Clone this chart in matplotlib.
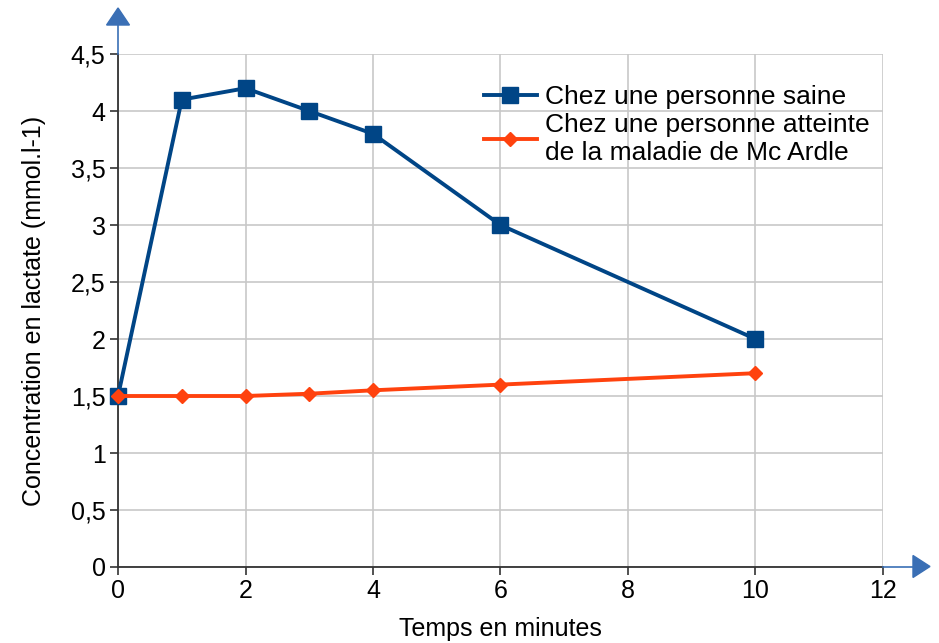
import matplotlib.pyplot as plt
from matplotlib.patches import Polygon

temps = [0, 1, 2, 3, 4, 6, 10]
saine = [1.5, 4.1, 4.2, 4.0, 3.8, 3.0, 2.0]
mcardle = [1.5, 1.5, 1.5, 1.52, 1.55, 1.6, 1.7]
y_ticks = [0, 0.5, 1, 1.5, 2, 2.5, 3, 3.5, 4, 4.5]
x_ticks = [0, 2, 4, 6, 8, 10, 12]

plt.rcParams['font.family'] = ['Liberation Sans', 'DejaVu Sans']

fig = plt.figure(figsize=(9.39, 6.43), dpi=100)
ax = fig.add_axes([0.1257, 0.1182, 0.8146, 0.7978])

ax.plot(temps, saine, color='#004586', lw=2.8, marker='s', ms=12,
        label='Chez une personne saine', zorder=3, clip_on=False)
ax.plot(temps, mcardle, color='#ff420e', lw=2.8, marker='D', ms=7,
        label='Chez une personne atteinte\nde la maladie de Mc Ardle', zorder=3,
        clip_on=False)

ax.set_xlim(0, 12)
ax.set_ylim(0, 4.5)
ax.set_xticks(x_ticks)
ax.set_yticks(y_ticks)
ax.set_yticklabels([('%g' % v).replace('.', ',') for v in y_ticks])
ax.tick_params(labelsize=18, length=6, color='#333333', width=1.2, pad=3)
ax.grid(True, color='#c8c8c8', lw=1.2)
ax.set_axisbelow(True)
for s in ['top', 'right']:
    ax.spines[s].set_visible(False)
for s in ['left', 'bottom']:
    ax.spines[s].set_color('#333333')
    ax.spines[s].set_linewidth(1.3)

ax.set_xlabel('Temps en minutes', fontsize=18, labelpad=10)
ax.set_ylabel('Concentration en lactate (mmol.l-1)', fontsize=18, labelpad=18)

ax.legend(loc='upper right', bbox_to_anchor=(0.982, 0.94), frameon=False,
          fontsize=19, handlelength=2.0, handletextpad=0.3, labelspacing=0.15,
          borderaxespad=0, borderpad=0)

# fleches des axes
arrow_col = '#3a6fb5'
fig.add_artist(plt.Line2D([0.1257, 0.1257], [0.916, 0.965], color=arrow_col, lw=1.2))
fig.add_artist(plt.Line2D([0.940, 0.975], [0.1182, 0.1182], color=arrow_col, lw=1.2))
fig.add_artist(Polygon([[0.1257, 0.9876], [0.1135, 0.9611], [0.1379, 0.9611]],
                       closed=True, color=arrow_col, transform=fig.transFigure))
fig.add_artist(Polygon([[0.9904, 0.1190], [0.9723, 0.1361], [0.9723, 0.1019]],
                       closed=True, color=arrow_col, transform=fig.transFigure))

fig.savefig('out.png', dpi=100)
